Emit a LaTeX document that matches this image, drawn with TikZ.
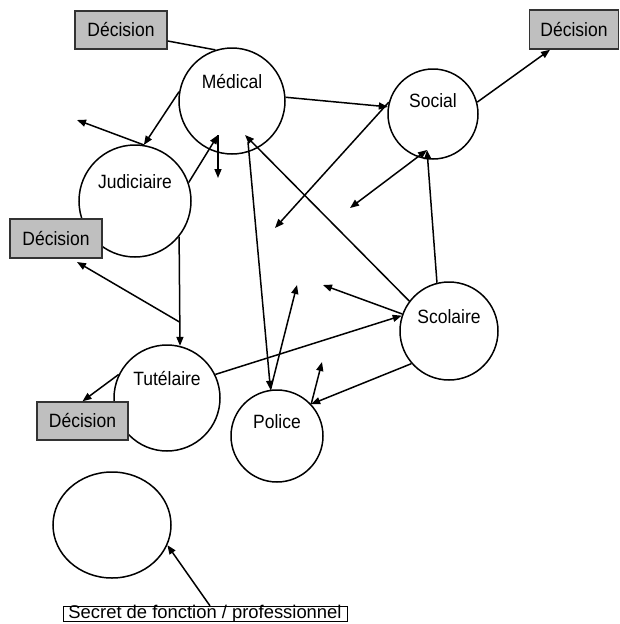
\documentclass[tikz,border=0pt]{standalone}
\usepackage{fontspec}
\setmainfont{Liberation Sans}
\usetikzlibrary{arrows.meta,shapes.geometric,calc}
\newcommand{\vstr}[1]{\scalebox{1}[1.1]{#1}}
\begin{document}
\begin{tikzpicture}[x=1pt,y=-1pt,
  circ/.style={draw,circle,line width=1.5pt,inner sep=0pt,fill=white},
  dbox/.style={draw=black!80,fill=black!25,line width=1.5pt,inner sep=0pt,font=\fontsize{17.5}{20}\selectfont},
  lab/.style={font=\fontsize{17.5}{20}\selectfont,inner sep=0pt},
  con/.style={line width=1.5pt},
  arr/.style={con,-{Triangle[length=9pt,width=7pt]}},
  darr/.style={con,{Triangle[length=9pt,width=7pt]}-{Triangle[length=9pt,width=7pt]}}]
\useasboundingbox (0,0) rectangle (620,624);
% circles
\node[circ,minimum size=106pt] (med) at (232,101) {};
\node[circ,minimum size=90pt] (soc) at (433,114) {};
\node[circ,minimum size=112pt] (jud) at (135,201) {};
\node[circ,minimum size=106pt] (tut) at (167,398) {};
\node[circ,minimum size=98pt] (sco) at (449,331) {};
\node[circ,minimum size=92pt] (pol) at (277,436) {};
\node[draw,ellipse,line width=1.5pt,minimum width=118pt,minimum height=106pt,inner sep=0pt] (leg) at (112,525) {};
% labels
\node[lab] (medT) at (232,82) {\vstr{Médical}};
\node[lab] (socT) at (433,101) {\vstr{Social}};
\node[lab] (judT) at (135,182) {\vstr{Judiciaire}};
\node[lab] (tutT) at (167,379) {\vstr{Tutélaire}};
\node[lab] (scoT) at (449,317) {\vstr{Scolaire}};
\node[lab] (polT) at (277,422) {\vstr{Police}};
% decision boxes
\node[dbox,minimum width=92pt,minimum height=38pt] (b1) at (121,30) {\vstr{Décision}};
\node[dbox,minimum width=89pt,minimum height=39pt] (b2) at (574,29.5) {\vstr{Décision}};
\node[dbox,minimum width=92pt,minimum height=39pt] (b3) at (56,238.5) {\vstr{Décision}};
\node[dbox,minimum width=91pt,minimum height=38pt] (b4) at (82.5,421) {\vstr{Décision}};
% legend box
\node[draw,line width=0.8pt,inner xsep=2pt,inner ysep=0pt,minimum width=284pt,text height=12.5pt,text depth=3pt,font=\fontsize{18.4}{19}\selectfont] (sec) at (205,614) {Secret de fonction / professionnel};
% free ends
\coordinate (m1) at (218,135);
\coordinate (m1d) at (218,178);
\coordinate (m2) at (245,135);
\coordinate (m3) at (248,142);
\coordinate (jl) at (77,120);
\coordinate (s1) at (427,150);
\coordinate (s1d) at (350,208);
\coordinate (sx) at (275,228);
\coordinate (p1) at (297,285);
\coordinate (p2) at (322,362);
\coordinate (c1) at (323,285);
\coordinate (j1) at (179.5,322);
\coordinate (jd) at (77,262);
% connectors
\draw[con] ([yshift=-11pt]b1.east) -- (med.108);
\draw[arr] (med.4) -- (soc.171);
\draw[arr] (soc.15) -- ([xshift=-24pt]b2.south);
\draw[arr] (med.170) -- (jud.81);
\draw[arr] (jud.81) -- (jl);
\draw[arr] (jud.19) -- (m1);
\draw[arr] (m1) -- (m1d);
\draw[arr] (sco.143) -- (m2);
\draw[arr] (m3) -- (pol.98);
\draw[arr] (pol.98) -- (p1);
\draw[arr] (soc.165) -- (sx);
\draw[darr] (s1) -- (s1d);
\draw[arr] (sco.104) -- (s1);
\draw[arr] (tut.26) -- (sco.162);
\draw[arr] (sco.160) -- (c1);
\draw[arr] (sco.221) -- (pol.43);
\draw[arr] (pol.43) -- (p2);
\draw[arr] (tut.154) -- (b4.north);
\draw[arr] (jud.321) -- (tut.76);
\draw[arr] (j1) -- (jd);
\draw[arr] ([xshift=5pt]sec.north) -- (leg.340);
\end{tikzpicture}
\end{document}
